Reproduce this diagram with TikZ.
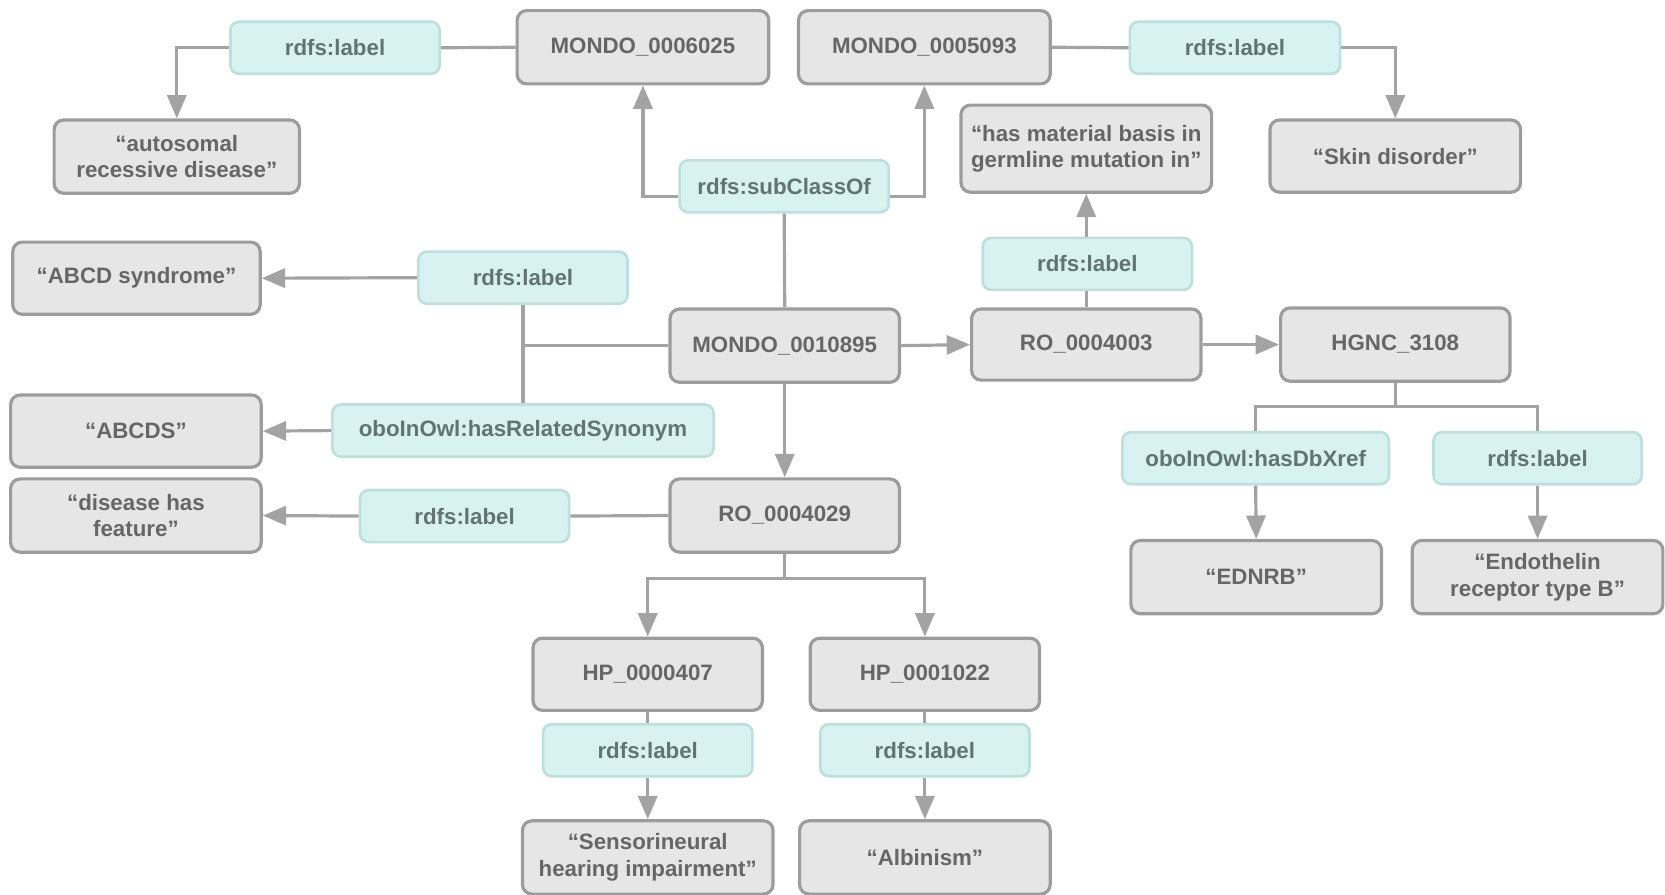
\documentclass[tikz,border=0pt]{standalone}
\usepackage{fontspec}
\setmainfont{Liberation Sans}
\usetikzlibrary{arrows.meta}

\definecolor{boxfill}{HTML}{E6E6E6}
\definecolor{boxline}{HTML}{9C9C9C}
\definecolor{tealfill}{HTML}{D8F2F2}
\definecolor{tealline}{HTML}{BEE0DC}
\definecolor{linkgray}{HTML}{A3A3A3}
\definecolor{txtgray}{HTML}{666666}
\definecolor{txtteal}{HTML}{627373}

\tikzset{
  base/.style={rectangle, align=center, inner sep=0pt,
    font=\bfseries\fontsize{21}{25}\selectfont},
  gbox/.style={base, draw=boxline, fill=boxfill, line width=3pt,
    rounded corners=9pt, text=txtgray},
  tbox/.style={base, draw=tealline, fill=tealfill, line width=2.5pt,
    rounded corners=8pt, text=txtteal, minimum height=49pt},
  link/.style={draw=linkgray, line width=3pt},
  arr/.style={link, -{Triangle[length=22pt,width=18pt]}},
}

\begin{document}
\begin{tikzpicture}[x=1pt, y=-1pt]
\useasboundingbox (0,0) rectangle (1568,842);

% ---- top row ----
\node[tbox, minimum width=197pt] (lblA) at (315.5,45) {rdfs:label};
\node[gbox, minimum width=237pt, minimum height=69pt] (m6025) at (605.5,44.5) {MONDO\_0006025};
\node[gbox, minimum width=237pt, minimum height=69pt] (m5093) at (870.5,44.5) {MONDO\_0005093};
\node[tbox, minimum width=198pt] (lblB) at (1163,45) {rdfs:label};

\node[gbox, minimum width=231pt, minimum height=69pt] (autosomal) at (166.5,147.5) {“autosomal\\recessive disease”};
\node[gbox, minimum width=236pt, minimum height=82pt] (hasmat) at (1023,140) {“has material basis in\\germline mutation in”};
\node[gbox, minimum width=236pt, minimum height=68pt] (skin) at (1314,147) {“Skin disorder”};

\node[tbox, minimum width=197pt] (subcls) at (738.5,175.5) {rdfs:subClassOf};

% ---- middle ----
\node[gbox, minimum width=233pt, minimum height=68pt] (abcdsyn) at (128.5,262) {“ABCD syndrome”};
\node[tbox, minimum width=197pt] (lblC) at (492.5,261.5) {rdfs:label};
\node[tbox, minimum width=197pt] (lblD) at (1024,248.5) {rdfs:label};

\node[gbox, minimum width=216pt, minimum height=69pt] (m10895) at (739,325.5) {MONDO\_0010895};
\node[gbox, minimum width=216pt, minimum height=67pt] (ro4003) at (1023,324.5) {RO\_0004003};
\node[gbox, minimum width=216pt, minimum height=69pt] (hgnc) at (1314,324.5) {HGNC\_3108};

\node[gbox, minimum width=236pt, minimum height=68pt] (abcds) at (128,406) {“ABCDS”};
\node[tbox, minimum width=359pt] (synonym) at (492.5,405.5) {oboInOwl:hasRelatedSynonym};
\node[tbox, minimum width=251pt] (dbxref) at (1182.5,431.5) {oboInOwl:hasDbXref};
\node[tbox, minimum width=196pt] (lblE) at (1448,431.5) {rdfs:label};

\node[gbox, minimum width=236pt, minimum height=69pt] (feature) at (128,485.5) {“disease has\\feature”};
\node[tbox, minimum width=197pt] (lblF) at (437.5,486) {rdfs:label};
\node[gbox, minimum width=216pt, minimum height=69pt] (ro4029) at (739,485.5) {RO\_0004029};

\node[gbox, minimum width=236pt, minimum height=69pt] (ednrb) at (1183,543.5) {“EDNRB”};
\node[gbox, minimum width=236pt, minimum height=69pt] (endoth) at (1448,543.5) {“Endothelin\\receptor type B”};

% ---- bottom ----
\node[gbox, minimum width=216pt, minimum height=68pt] (hp407) at (610,635) {HP\_0000407};
\node[gbox, minimum width=216pt, minimum height=68pt] (hp1022) at (871,635) {HP\_0001022};
\node[tbox, minimum width=197pt] (lblG) at (610,706.5) {rdfs:label};
\node[tbox, minimum width=197pt] (lblH) at (871,706.5) {rdfs:label};
\node[gbox, minimum width=236pt, minimum height=69pt] (sensor) at (610,807.5) {“Sensorineural\\hearing impairment”};
\node[gbox, minimum width=236pt, minimum height=69pt] (albin) at (871,807.5) {“Albinism”};

% ---- connectors ----
\draw[arr] (lblA.west) -| (autosomal.north);
\draw[link] (lblA.east) -- (m6025.west);
\draw[link] (m5093.east) -- (lblB.west);
\draw[arr] (lblB.east) -| (skin.north);

\draw[link] (m10895.north) -- (subcls.south);
\draw[arr] ([yshift=-9.5pt]subcls.west) -| (m6025.south);
\draw[arr] ([yshift=-9.5pt]subcls.east) -| (m5093.south);

\draw[arr] (m10895.east) -- (ro4003.west);
\draw[arr] (ro4003.east) -- (hgnc.west |- ro4003.east);
\draw[link] (ro4003.north) -- (ro4003.north |- lblD.south);
\draw[arr] (ro4003.north |- lblD.north) -- (hasmat.south);

\coordinate (jn) at (492.5,325.5);
\draw[link] (m10895.west) -- (jn);
\draw[link] (lblC.south) -- (synonym.north);
\draw[arr] (lblC.west) -- (abcdsyn.east);
\draw[arr] (synonym.west) -- (abcds.east);

\draw[arr] (m10895.south) -- (ro4029.north);
\draw[link] (ro4029.west) -- (lblF.east);
\draw[arr] (lblF.west) -- (feature.east);

\coordinate (forkA) at (739,545);
\draw[arr] (ro4029.south) -- (forkA) -| (hp407.north);
\draw[arr] (forkA) -| (hp1022.north);

\coordinate (forkB) at (1314,383);
\draw[link] (hgnc.south) -- (forkB) -| (dbxref.north);
\draw[link] (forkB) -| (lblE.north);
\draw[arr] (dbxref.south) -- (ednrb.north);
\draw[arr] (lblE.south) -- (endoth.north);

\draw[link] (hp407.south) -- (lblG.north);
\draw[arr] (lblG.south) -- (sensor.north);
\draw[link] (hp1022.south) -- (lblH.north);
\draw[arr] (lblH.south) -- (albin.north);
\end{tikzpicture}
\end{document}
